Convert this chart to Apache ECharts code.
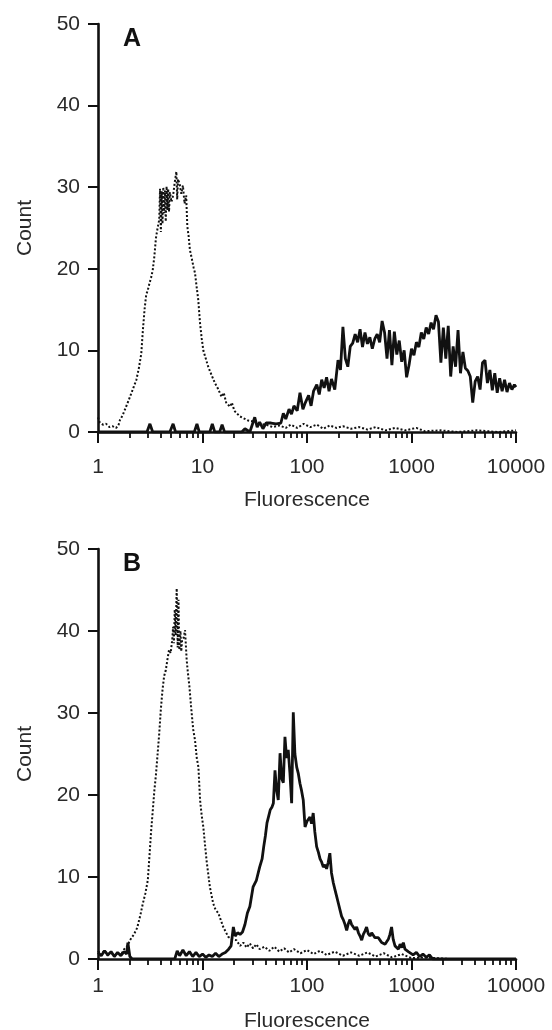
<!DOCTYPE html>
<html><head><meta charset="utf-8">
<script src="https://cdn.jsdelivr.net/npm/echarts@6/dist/echarts.min.js"></script>
<style>html,body{margin:0;padding:0;background:#fff}#c{width:552px;height:1030px}</style>
</head><body><div id="c"></div>
<script>
// ---- data (x = instrument channel, 64 channels per decade; y = count) ----
const xTickLabels = ['1', '10', '100', '1000', '10000'];
const yMin = 0, yMax = 50, yStep = 10;
const panelLetters = ['A', 'B'];
const xName = 'Fluorescence';
const yName = 'Count';
const channelsPerDecade = 64;
const minorMultipliers = [2, 3, 4, 5, 6, 7, 8, 9];
const minorDecades = [1, 10, 100, 1000];

// Panel A, control (dotted)
const ctrlA = [[0,1.8],[1,1.2],[3,0.9],[5,1.0],[7,0.6],[9,0.7],[11,0.5],[12.5,0.8],[13.5,1.5],[15,2.0],[17,3.0],[19,4.0],[20.5,4.8],[22,5.6],[23.5,6.4],[25,7.8],[26.5,9.6],[27.5,12.5],[28.5,15.0],[29.5,16.8],[30.5,17.4],[31.5,18.2],[32.5,18.9],[33.5,19.8],[34.5,21.5],[35.5,23.8],[36.5,25.0],[37.5,26.0],[38,29.8],[38.5,24.5],[39,29.5],[39.5,25.5],[40,30.0],[40.5,26.8],[41,29.6],[41.5,25.8],[42,30.1],[42.5,27.2],[43,29.8],[43.5,27.0],[44,29.4],[45,28.2],[46,29.0],[47,30.6],[48,31.9],[48.5,28.5],[49,31.0],[50,30.4],[51,29.2],[52,30.2],[53,28.0],[54,29.0],[54.7,25.2],[55.5,24.0],[56.3,22.3],[57.5,21.2],[58.5,20.2],[59.4,19.5],[60.4,17.8],[61.4,16.2],[62.5,13.3],[63.5,11.5],[64.5,10.0],[66,9.0],[67.5,8.0],[69.5,7.0],[71.6,6.0],[73.5,5.3],[75.7,4.3],[77,4.8],[78.5,3.6],[80.8,3.1],[82,3.6],[83.5,2.6],[84.9,2.3],[87,1.9],[89,1.7],[92,1.4],[95,1.3],[99,1.0],[103,0.9],[107,0.6],[111,0.8],[115,0.5],[118,0.9],[122,0.5],[126,1.0],[130,0.6],[134,0.9],[138,0.4],[142,0.8],[146,0.5],[150,0.7],[155,0.4],[160,0.6],[165,0.3],[170,0.6],[176,0.2],[182,0.5],[188,0.2],[195,0.5],[200,0.1],[210,0.2],[220,0.0],[232,0.2],[245,0.0],[256,0.2]];

// Panel A, stained (solid)
const posA = [[0,0],[30,0],[31.8,1.0],[33.5,0],[44,0],[46,1.0],[47.5,0],[59,0],[60.6,1.0],[62,0],[68.5,0],[70,1.0],[71.5,0],[74.5,0],[76,0.9],[77.5,0],[88,0],[90,0.4],[93,0],[96,1.8],[97.5,0.6],[99,1.2],[101,0.4],[103,1.1],[106,1.1],[109,1.0],[112,1.1],[113.5,2.3],[115,1.6],[117,2.8],[118.5,2.2],[120,3.2],[122,2.6],[123.7,4.8],[125.5,2.8],[127,3.6],[129,4.5],[130.5,3.2],[132,5.0],[134,5.8],[135.5,4.6],[137,6.4],[138.5,5.4],[140,6.7],[141.5,5.0],[143,6.5],[145,5.2],[147,8.8],[148.5,7.6],[150,12.9],[151.5,9.0],[153,8.0],[154.5,10.5],[156,10.9],[157.5,12.0],[159,11.0],[160.5,12.6],[162,10.4],[163.5,12.2],[165,10.8],[166.5,11.6],[168,10.2],[169.5,11.4],[171,12.0],[172.5,11.0],[174,13.6],[175.5,12.2],[177,9.0],[178.5,12.5],[180,8.2],[181.5,12.3],[183,9.5],[184.5,11.2],[186,8.6],[187.5,10.0],[189,6.7],[190.5,8.2],[192,10.2],[193.5,9.4],[195,11.0],[196.5,10.4],[198,12.2],[199.5,11.4],[201,12.8],[202.5,12.0],[204,13.4],[205.5,12.6],[207,14.3],[208.5,13.5],[210,8.5],[211.5,12.8],[213,9.0],[214.5,13.0],[216,6.8],[217.5,10.5],[219,8.0],[220.5,12.5],[222,7.2],[223.5,9.8],[225,7.8],[226.5,7.5],[228,6.8],[229.5,3.6],[231,6.2],[232.5,6.8],[234,5.2],[235.5,8.5],[237,8.8],[238.5,6.0],[240,7.6],[241.5,5.1],[243,7.2],[244.5,4.8],[246,6.6],[247.5,5.0],[249,6.4],[250.5,4.9],[252,6.0],[253.5,5.2],[255,5.8],[256,5.5]];

// Panel B, control (dotted)
const ctrlB = [[0,1.0],[2,0.5],[4,1.1],[6,0.4],[8,0.9],[10,0.3],[12,0.8],[14,0.5],[16,1.2],[18,1.6],[19.6,2.3],[22,3.0],[24,3.8],[26,5.4],[27.5,6.8],[29,8.0],[30.5,9.6],[31.5,12.5],[32.5,15.5],[33.5,18.0],[34.5,20.5],[35.5,22.5],[36.5,25.0],[37.5,27.5],[38.5,30.5],[39.5,32.8],[40.5,34.5],[41.5,35.2],[42.5,36.5],[43.5,37.7],[44.5,37.3],[45.5,39.0],[46,40.5],[46.5,38.5],[47,42.6],[47.5,39.5],[48.2,45.2],[48.8,38.0],[49.3,43.8],[49.8,37.7],[50.5,40.0],[51,37.5],[51.5,38.9],[52.5,39.2],[53.3,40.1],[54.3,36.5],[55,35.0],[56,33.2],[57,30.8],[58.3,28.0],[59.4,26.7],[60.5,24.5],[61.5,23.4],[62.5,19.4],[63.5,17.5],[64.5,16.1],[65.5,14.0],[66.5,12.0],[67.5,10.4],[68.5,8.8],[70.5,6.8],[72,6.0],[73.7,5.6],[76.7,3.9],[79.8,2.7],[82,2.4],[84.7,2.3],[87,1.6],[89,2.0],[91,1.4],[93,1.9],[95,1.3],[97,1.8],[99,1.2],[102,1.5],[105,1.0],[108,1.5],[111,0.9],[114,1.3],[117,0.8],[120,1.2],[124,0.7],[128,1.1],[132,0.6],[136,1.0],[140,0.5],[145,0.9],[150,0.4],[155,0.8],[160,0.4],[165,0.8],[170,0.3],[175,0.7],[180,0.2],[186,0.6],[192,0.1],[200,0.2],[215,0],[256,0]];

// Panel B, stained (solid)
const posB = [[0,0.8],[2,0.4],[4,1.0],[6,0.5],[8,0.9],[10,0.3],[12,0.8],[14,0.4],[16,0.9],[17.5,0.6],[18.3,2.0],[19.5,0.3],[21,0],[47,0],[48.5,1.0],[50,0.4],[52,1.1],[54,0.4],[56,0.9],[58,0.3],[60,0.8],[62,0.3],[64,0.6],[66,0.2],[68,0.5],[70,0.3],[72,0.7],[74,0.3],[76,0.6],[78,0.8],[80,1.2],[81.5,1.6],[82.9,3.9],[84,2.8],[85.5,3.2],[87,3.0],[88.5,3.3],[90,4.2],[91.5,5.6],[93,6.4],[95,8.8],[97,9.6],[99,11.2],[100.5,12.2],[101.5,13.7],[102.5,15.0],[103.5,16.6],[104.5,17.4],[105.5,18.2],[106.5,18.5],[107.4,19.0],[108.4,23.0],[109.4,20.6],[110.4,19.4],[111.5,25.1],[112.5,22.0],[113.5,21.5],[114.5,27.1],[115.5,24.5],[116.5,25.5],[117.5,22.8],[118.6,19.0],[119.6,30.1],[120.6,25.0],[121.7,23.4],[122.7,22.6],[123.7,21.4],[124.7,20.5],[125.7,19.4],[126.8,16.1],[128,16.8],[129.8,17.3],[130.8,16.5],[131.8,17.8],[132.8,15.5],[133.9,13.7],[135,13.0],[136,12.2],[137,11.8],[138,11.2],[139,11.5],[140,11.0],[141,11.8],[142,12.9],[143,10.5],[144.1,9.3],[145.2,8.4],[146.2,7.6],[147.2,6.8],[148.2,6.0],[149.2,5.2],[150.2,4.8],[151.3,4.2],[152.3,3.5],[153.3,4.3],[154.3,4.8],[155.3,4.2],[156.4,4.0],[157.4,3.6],[158.4,3.9],[159.5,3.2],[160.5,2.8],[161.5,2.3],[162.5,3.0],[163.5,3.4],[164.5,3.9],[165.5,3.1],[166.6,2.8],[167.6,3.2],[168.6,3.2],[169.6,2.6],[170.6,2.4],[171.7,2.6],[172.7,2.3],[173.7,2.0],[174.7,2.2],[175.8,1.8],[176.8,2.0],[177.8,2.4],[178.8,3.0],[179.8,3.9],[180.8,2.4],[181.9,1.6],[182.9,1.6],[184,1.2],[185,1.8],[186,1.4],[187,2.0],[188,1.2],[189,1.0],[190,0.9],[191,0.7],[193,0.5],[195,0.8],[197,0.3],[199,0.6],[201,0.2],[203,0.5],[205,0],[256,0]];

// ---- build ----
const toFluor = ch => Math.pow(10, ch / channelsPerDecade);
const toPoints = arr => arr.map(p => [toFluor(p[0]), p[1]]);
const minorTickPos = [];
minorDecades.forEach(d => minorMultipliers.forEach(m => minorTickPos.push(Math.log10(d * m))));

const FONT = "'Liberation Sans', Arial, Helvetica, sans-serif";
const INK = '#111111';
const TXT = '#2a2a2a';

const grids = [
  {left: 98, top: 24, width: 418, height: 408, labelMargin: 25, nameGap: 58},
  {left: 98, top: 549, width: 418, height: 410, labelMargin: 17, nameGap: 52}
];

const xAxes = [], yAxes = [];
grids.forEach((g, i) => {
  xAxes.push({
    type: 'log', logBase: 10, min: 1, max: 10000, gridIndex: i, position: 'bottom',
    name: xName, nameLocation: 'middle', nameGap: g.nameGap,
    nameTextStyle: {fontFamily: FONT, fontSize: 21, color: TXT},
    axisLine: {show: true, onZero: false, lineStyle: {color: INK, width: 2.6}},
    axisTick: {show: true, length: 11, lineStyle: {color: INK, width: 2}},
    axisLabel: {fontFamily: FONT, fontSize: 21, color: TXT, margin: g.labelMargin,
      formatter: v => xTickLabels[Math.round(Math.log10(v))]},
    splitLine: {show: false}, minorTick: {show: false}
  });
  xAxes.push({
    type: 'value', min: 0, max: 4, gridIndex: i, position: 'bottom',
    axisLine: {show: false, onZero: false},
    axisTick: {show: true, length: 6, customValues: minorTickPos, lineStyle: {color: INK, width: 1.8}},
    axisLabel: {show: false}, splitLine: {show: false}
  });
  yAxes.push({
    type: 'value', min: yMin, max: yMax, interval: yStep, gridIndex: i,
    name: yName, nameLocation: 'middle', nameGap: 62,
    nameTextStyle: {fontFamily: FONT, fontSize: 21, color: TXT},
    axisLine: {show: true, onZero: false, lineStyle: {color: INK, width: 2.6}},
    axisTick: {show: true, length: 10, lineStyle: {color: INK, width: 2}},
    axisLabel: {fontFamily: FONT, fontSize: 21, color: TXT, margin: 18},
    splitLine: {show: false}
  });
});

const dotted = {color: INK, width: 2, type: [2, 2]};
const solid = {color: INK, width: 2.8};
function lineSeries(arr, xi, yi, style) {
  return {type: 'line', xAxisIndex: xi, yAxisIndex: yi, data: toPoints(arr),
    showSymbol: false, symbol: 'none', lineStyle: style, silent: true, animation: false};
}

const option = {
  backgroundColor: '#fff',
  animation: false,
  grid: grids.map(g => ({left: g.left, top: g.top, width: g.width, height: g.height, containLabel: false, outerBoundsMode: 'none'})),
  xAxis: xAxes,
  yAxis: yAxes,
  series: [
    lineSeries(ctrlA, 0, 0, dotted),
    lineSeries(posA, 0, 0, solid),
    lineSeries(ctrlB, 2, 1, dotted),
    lineSeries(posB, 2, 1, solid)
  ],
  graphic: panelLetters.map((t, i) => ({
    type: 'text', left: 123, top: grids[i].top + 3,
    style: {text: t, fontFamily: FONT, fontSize: 25, fontWeight: 'bold', fill: INK}
  }))
};
const chart = echarts.init(document.getElementById('c'), null, {renderer: 'canvas'});
chart.setOption(option);
</script></body></html>
